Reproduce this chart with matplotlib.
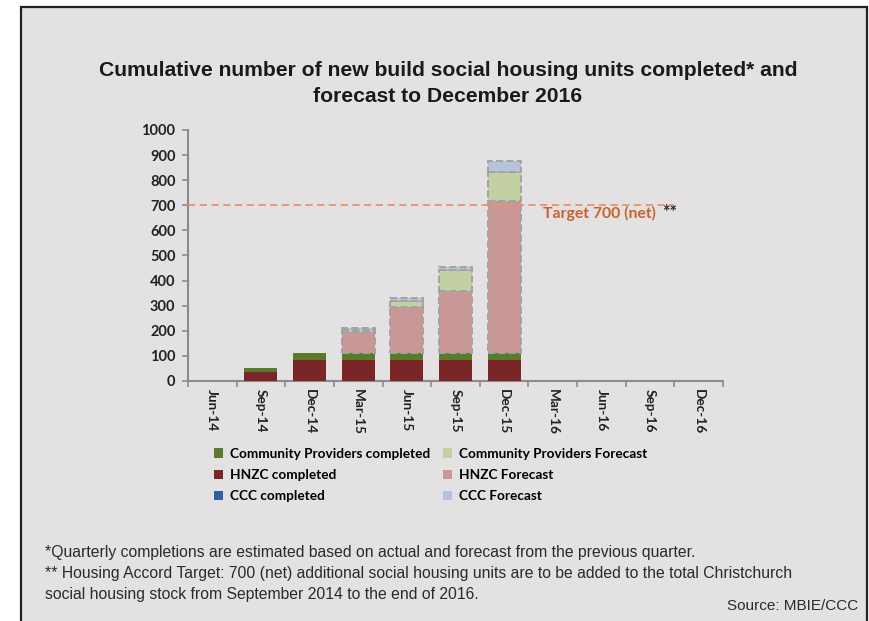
import numpy as np
import matplotlib
matplotlib.use('Agg')
from matplotlib import pyplot as plt
from matplotlib.patches import Rectangle, Patch

# quarterly categories and cumulative units by provider
quarters = ['Jun-14', 'Sep-14', 'Dec-14', 'Mar-15', 'Jun-15', 'Sep-15',
            'Dec-15', 'Mar-16', 'Jun-16', 'Sep-16', 'Dec-16']
hnzc_completed = [0, 37, 83, 83, 83, 83, 83, 0, 0, 0, 0]
cp_completed = [0, 13, 28, 27, 27, 27, 27, 0, 0, 0, 0]
ccc_completed = [0, 0, 0, 0, 0, 0, 0, 0, 0, 0, 0]
hnzc_forecast = [0, 0, 0, 87, 183, 248, 607, 0, 0, 0, 0]
cp_forecast = [0, 0, 0, 6, 27, 84, 116, 0, 0, 0, 0]
ccc_forecast = [0, 0, 0, 8, 10, 11, 42, 0, 0, 0, 0]
target = 700

BG = '#e3e1e2'
sans = ['Lato', 'DejaVu Sans']

fig = plt.figure(figsize=(8.7, 6.21), dpi=100)
fig.patch.set_facecolor('white')

# framed panel behind everything
panel = Rectangle((21 / 870, -0.05), (867 - 21) / 870, 1.05 - 7 / 621,
                  transform=fig.transFigure, facecolor=BG, edgecolor='#222222',
                  linewidth=1.6, zorder=-10)
fig.patches.append(panel)

fig.text(448 / 870, 1 - 70 / 621,
         'Cumulative number of new build social housing units completed* and',
         ha='center', va='center', fontsize=15.2, fontweight='bold',
         family='Liberation Sans', color='#1a1a1a')
fig.text(448 / 870, 1 - 96 / 621, 'forecast to December 2016',
         ha='center', va='center', fontsize=15.2, fontweight='bold',
         family='Liberation Sans', color='#1a1a1a')

ax = fig.add_axes([188 / 870, 1 - 381 / 621, (723 - 188) / 870, (381 - 130) / 621])
ax.set_facecolor(BG)

x = np.arange(len(quarters))
w = 0.68
series = [
    (hnzc_completed, '#7a2528', False),
    (cp_completed, '#5b7a2c', False),
    (ccc_completed, '#2e5fa0', False),
    (hnzc_forecast, '#c99896', True),
    (cp_forecast, '#c2d0a2', True),
    (ccc_forecast, '#b4c3dc', True),
]
bottom = np.zeros(len(quarters))
for vals, col, dashed in series:
    vals = np.array(vals, dtype=float)
    mask = vals > 0
    if dashed:
        ax.bar(x[mask], vals[mask], w, bottom=bottom[mask], color=col,
               edgecolor='#a3a3a3', linestyle='--', linewidth=1.4, zorder=3)
    else:
        ax.bar(x[mask], vals[mask], w, bottom=bottom[mask], color=col,
               linewidth=0, zorder=3)
    bottom += vals

# housing accord target
ax.plot([-0.5, 9.5], [target, target], color='#f0906a', linestyle=(0, (4, 2.5)),
        linewidth=1.3, zorder=4)
ax.text(6.8, target - 32, f'Target {target} (net)', color='#c4642c', fontsize=11.3,
        fontweight='bold', family=sans, va='center', ha='left')
ax.text(9.25, target - 28, '**', color='#1f2d3d', fontsize=13, fontweight='bold',
        family=sans, va='center', ha='left')

ax.set_xlim(-0.5, len(quarters) - 0.5)
ax.set_ylim(0, 1000)
ax.set_yticks(np.arange(0, 1001, 100))
ax.set_xticks(x)
ax.set_xticklabels(quarters, rotation=-90, fontsize=9.8, fontweight='bold',
                   family=sans, color='#222222', va='top', ha='center')
ax.set_xticks(np.arange(-0.5, len(quarters), 1), minor=True)
ax.tick_params(axis='x', which='major', length=0, pad=6)
ax.tick_params(axis='x', which='minor', length=4, width=1.2, color='#8c8c8c', direction='out')
ax.tick_params(axis='y', length=4, width=1.2, color='#8c8c8c', direction='out', pad=5)
for lab in ax.get_yticklabels():
    lab.set_fontsize(10.5)
    lab.set_fontweight('bold')
    lab.set_family(sans)
    lab.set_color('#222222')
for s in ['top', 'right']:
    ax.spines[s].set_visible(False)
for s in ['left', 'bottom']:
    ax.spines[s].set_color('#8c8c8c')
    ax.spines[s].set_linewidth(1.5)

handles = [
    Patch(facecolor='#5b7a2c', label='Community Providers completed'),
    Patch(facecolor='#7a2528', label='HNZC completed'),
    Patch(facecolor='#2e5fa0', label='CCC completed'),
    Patch(facecolor='#c2d0a2', label='Community Providers Forecast'),
    Patch(facecolor='#c99896', label='HNZC Forecast'),
    Patch(facecolor='#b4c3dc', label='CCC Forecast'),
]
fig.legend(handles=handles, ncol=2, loc='upper left',
           bbox_to_anchor=(207 / 870, 1 - 441 / 621), frameon=False,
           prop={'family': sans, 'weight': 'bold', 'size': 9.8},
           handlelength=0.7, handleheight=0.7, handletextpad=0.5,
           columnspacing=0.9, labelspacing=0.68, borderpad=0)

notes = [
    '*Quarterly completions are estimated based on actual and forecast from the previous quarter.',
    '** Housing Accord Target: 700 (net) additional social housing units are to be added to the total Christchurch',
    'social housing stock from September 2014 to the end of 2016.',
]
for i, line in enumerate(notes):
    fig.text(45 / 870, 1 - (553 + 20.5 * i) / 621, line, ha='left', va='center',
             fontsize=11.3, family='Liberation Sans', color='#2a2a2a')
fig.text(858 / 870, 1 - 606 / 621, 'Source: MBIE/CCC', ha='right', va='center',
         fontsize=11, family='Liberation Sans', color='#2a2a2a')

fig.savefig('out.png', dpi=100, facecolor=fig.get_facecolor())
